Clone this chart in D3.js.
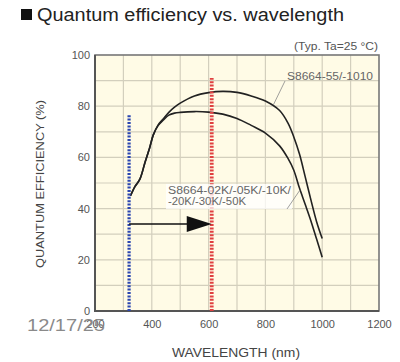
<!DOCTYPE html>
<html>
<head>
<meta charset="utf-8">
<script src="https://cdn.jsdelivr.net/npm/d3@7/dist/d3.min.js"></script>
<style>
  html, body { margin: 0; padding: 0; background: #fff; }
  svg { display: block; font-family: "Liberation Sans", Arial, Helvetica, sans-serif; }
</style>
</head>
<body>
<svg id="chart" width="400" height="362"></svg>
<script>
// Spectral response data (quantum efficiency in %, wavelength in nm)
const wavelengthNm = [325, 340, 358, 376, 393, 405, 422, 440, 460, 480, 500, 550, 600, 650, 700, 750, 800, 850, 880, 900, 920, 940, 960, 980, 1000];
const qeS8664_55 = [45, 48.5, 51.5, 58, 64, 68.7, 72.6, 75, 77.6, 79.6, 81.2, 84, 85.3, 85.8, 85.4, 84, 82, 78.3, 73.3, 68, 61.3, 52.5, 43.5, 35, 28.3];
const qeS8664_K = [45, 48.5, 51.5, 58, 64, 68.7, 72.4, 74.5, 76.5, 77.3, 77.6, 77.9, 77.7, 76.9, 75.2, 72.5, 69.5, 64.5, 59.5, 55, 48, 41.7, 35.3, 28.2, 21];

// Axis ticks
const xTicks = [200, 400, 600, 800, 1000, 1200];
const yTicks = [0, 20, 40, 60, 80, 100];
const xGrid = d3.range(200, 1201, 100);
const yGrid = d3.range(0, 101, 10);

// Marker lines: blue at 320 nm, red at ~611 nm, arrow between them
const blueMarker = { nm: 320, top: 76.5 };
const redMarker = { nm: 611, top: 91 };
const arrowQE = 34;

const svg = d3.select("#chart");
const plot = { left: 95, right: 379, top: 55, bottom: 311 };

const x = d3.scaleLinear().domain([200, 1200]).range([plot.left, plot.right]);
const y = d3.scaleLinear().domain([0, 100]).range([plot.bottom, plot.top]);

// Title
svg.append("rect").attr("x", 21).attr("y", 9).attr("width", 11).attr("height", 11).attr("fill", "#111");
svg.append("text").attr("x", 37).attr("y", 21)
  .attr("font-size", 17.5).attr("fill", "#222")
  .attr("textLength", 307).attr("lengthAdjust", "spacingAndGlyphs")
  .text("Quantum efficiency vs. wavelength");

// Plot background
svg.append("rect")
  .attr("x", plot.left).attr("y", plot.top)
  .attr("width", plot.right - plot.left).attr("height", plot.bottom - plot.top)
  .attr("fill", "#fffbe6");

// Grid
svg.append("g").selectAll("line").data(xGrid.slice(1, -1)).join("line")
  .attr("x1", d => x(d)).attr("x2", d => x(d))
  .attr("y1", plot.top).attr("y2", plot.bottom)
  .attr("stroke", "#d3cfbd").attr("stroke-width", 1.2);
svg.append("g").selectAll("line").data(yGrid.slice(1, -1)).join("line")
  .attr("y1", d => y(d)).attr("y2", d => y(d))
  .attr("x1", plot.left).attr("x2", plot.right)
  .attr("stroke", "#d3cfbd").attr("stroke-width", 1.2);

// Frame
svg.append("rect")
  .attr("x", plot.left).attr("y", plot.top)
  .attr("width", plot.right - plot.left).attr("height", plot.bottom - plot.top)
  .attr("fill", "none").attr("stroke", "#777").attr("stroke-width", 1.6);
svg.append("path")
  .attr("d", `M${plot.left},${plot.top}V${plot.bottom}H${plot.right}`)
  .attr("fill", "none").attr("stroke", "#555").attr("stroke-width", 2);

// Axes
const xAxis = svg.append("g").attr("transform", `translate(0,${plot.bottom})`)
  .call(d3.axisBottom(x).tickValues(xTicks).tickFormat(d3.format("d")).tickSize(0).tickPadding(9));
const yAxis = svg.append("g").attr("transform", `translate(${plot.left},0)`)
  .call(d3.axisLeft(y).tickValues(yTicks).tickFormat(d3.format("d")).tickSize(0).tickPadding(5));
[xAxis, yAxis].forEach(a => {
  a.select(".domain").remove();
  a.selectAll("text").attr("font-size", 11).attr("fill", "#555")
    .attr("font-family", "'Liberation Sans', Arial, sans-serif");
});

// Axis titles
svg.append("text").attr("x", 236).attr("y", 357).attr("text-anchor", "middle")
  .attr("font-size", 12).attr("fill", "#444")
  .attr("textLength", 128).attr("lengthAdjust", "spacingAndGlyphs")
  .text("WAVELENGTH (nm)");
svg.append("text").attr("transform", "translate(44,184) rotate(-90)")
  .attr("text-anchor", "middle").attr("font-size", 11.5).attr("fill", "#444")
  .attr("textLength", 168).attr("lengthAdjust", "spacingAndGlyphs")
  .text("QUANTUM EFFICIENCY (%)");

// Condition note
svg.append("text").attr("x", 378).attr("y", 50).attr("text-anchor", "end")
  .attr("font-size", 10).attr("fill", "#555")
  .attr("textLength", 84).attr("lengthAdjust", "spacingAndGlyphs")
  .text("(Typ. Ta=25 °C)");

// Response curves
const line = d3.line()
  .x((d, i) => x(wavelengthNm[i]))
  .y(d => y(d))
  .curve(d3.curveCatmullRom.alpha(0.5));
[qeS8664_K, qeS8664_55].forEach(series => {
  svg.append("path").datum(series)
    .attr("d", line)
    .attr("fill", "none").attr("stroke", "#222").attr("stroke-width", 1.6);
});

// Marker lines
svg.append("line")
  .attr("x1", x(blueMarker.nm)).attr("x2", x(blueMarker.nm))
  .attr("y1", y(0)).attr("y2", y(blueMarker.top))
  .attr("stroke", "#2a45b0").attr("stroke-width", 3.2).attr("stroke-dasharray", "2,1.4");
svg.append("line")
  .attr("x1", x(redMarker.nm)).attr("x2", x(redMarker.nm))
  .attr("y1", y(0)).attr("y2", y(redMarker.top))
  .attr("stroke", "#e04040").attr("stroke-width", 3.8).attr("stroke-dasharray", "2,1.4");

// Arrow from blue to red marker
const ay = y(arrowQE);
const headLen = 25;
svg.append("line")
  .attr("x1", x(blueMarker.nm)).attr("x2", x(redMarker.nm) - headLen + 2)
  .attr("y1", ay).attr("y2", ay)
  .attr("stroke", "#111").attr("stroke-width", 1.6);
svg.append("path")
  .attr("d", `M${x(redMarker.nm) - headLen},${ay - 8}L${x(redMarker.nm)},${ay}L${x(redMarker.nm) - headLen},${ay + 8}Z`)
  .attr("fill", "#111");

// Series labels
svg.append("rect").attr("x", 166).attr("y", 184).attr("width", 126).attr("height", 25)
  .attr("fill", "#ffffff").attr("opacity", 0.75);
svg.append("line").attr("x1", 287).attr("y1", 209).attr("x2", x(922)).attr("y2", y(47.3))
  .attr("stroke", "#888").attr("stroke-width", 0.8);
svg.append("text").attr("x", 168).attr("y", 194).attr("font-size", 10).attr("fill", "#666")
  .attr("textLength", 123).attr("lengthAdjust", "spacingAndGlyphs")
  .text("S8664-02K/-05K/-10K/");
svg.append("text").attr("x", 168).attr("y", 205).attr("font-size", 10).attr("fill", "#666")
  .attr("textLength", 78).attr("lengthAdjust", "spacingAndGlyphs")
  .text("-20K/-30K/-50K");

svg.append("line").attr("x1", 285).attr("y1", 81).attr("x2", x(828)).attr("y2", y(80.5))
  .attr("stroke", "#888").attr("stroke-width", 0.8);
svg.append("text").attr("x", 287).attr("y", 80).attr("font-size", 10).attr("fill", "#666")
  .attr("textLength", 86).attr("lengthAdjust", "spacingAndGlyphs")
  .text("S8664-55/-1010");

// Footer date
svg.append("text").attr("x", 27).attr("y", 331).attr("font-size", 16).attr("fill", "#8a8a8a")
  .attr("textLength", 78).attr("lengthAdjust", "spacingAndGlyphs")
  .text("12/17/25");
</script>
</body>
</html>
